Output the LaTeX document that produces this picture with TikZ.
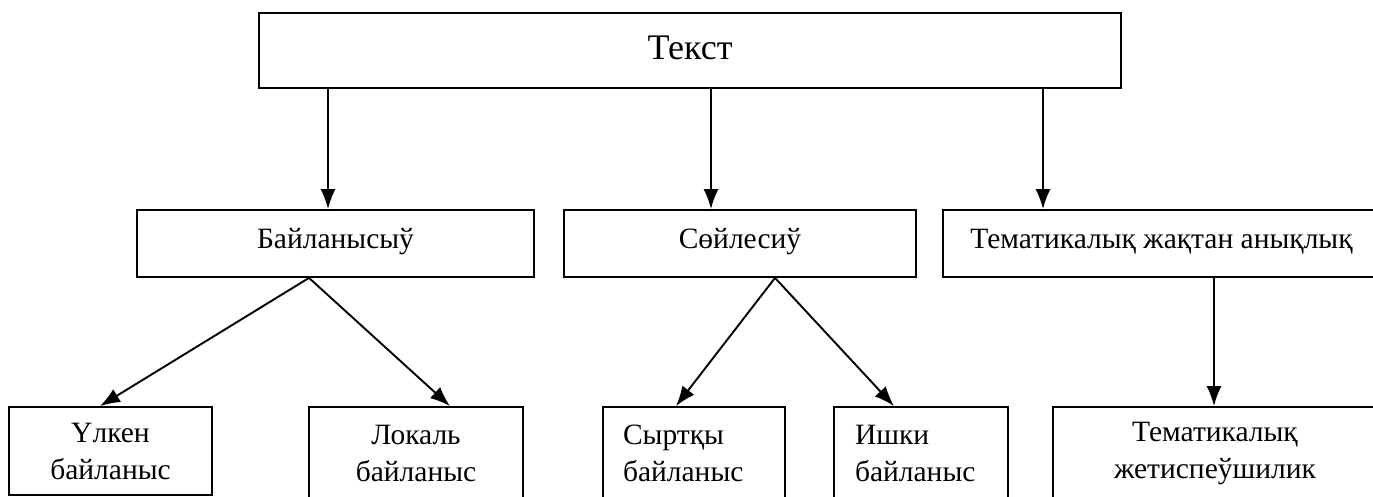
\documentclass[tikz,border=0pt]{standalone}
\usepackage{fontspec}
\setmainfont{Liberation Serif}
\usetikzlibrary{arrows.meta}

\tikzset{
  blok/.style={draw, line width=1.8pt, inner sep=0pt, font=\fontsize{29.5}{37}\selectfont},
  orta/.style={blok, minimum height=67pt, text height=20pt, text depth=10pt},
  asti/.style={blok, align=center},
  astisol/.style={blok, align=left},
  arr/.style={line width=1.9pt, -{Latex[length=20pt,width=15pt]}}
}

\begin{document}
\begin{tikzpicture}[x=1pt,y=-1pt]
\useasboundingbox (0,0) rectangle (1373,497);

% joqari
\node[blok, minimum width=862pt, minimum height=75pt, text height=24pt, text depth=5pt,
      font=\fontsize{36}{40}\selectfont] (tekst) at (690,50.5) {Текст};

% orta qatar
\node[orta, minimum width=397pt] (bai) at (335.5,243.5) {Байланысыў};
\node[orta, minimum width=352pt] (soy) at (740,243.5) {Сөйлесиў};
\node[orta, minimum width=437pt] (tema) at (1161.5,243.5) {Тематикалық жақтан анықлық};

% tomengi qatar
\node[asti, minimum width=203pt, minimum height=88pt] (ulken) at (110.5,451) {Үлкен\\байланыс};
\node[asti, minimum width=214pt, minimum height=93pt] (lokal) at (416,453.5) {Локаль\\байланыс};
\node[astisol, minimum height=93pt, inner xsep=20pt, text width=142pt] (sirtqi) at (694,453.5) {Сыртқы\\байланыс};
\node[astisol, minimum height=93pt, inner xsep=21pt, text width=132pt] (ishki) at (921,453.5) {Ишки\\байланыс};
\node[asti, minimum width=324pt, minimum height=93pt] (temj) at (1215,453.5) {Тематикалық\\жетиспеўшилик};

% baylanislar
\draw[arr] (tekst.south -| 328,0) -- (bai.north -| 328,0);
\draw[arr] (tekst.south -| 711,0) -- (soy.north -| 711,0);
\draw[arr] (tekst.south -| 1043,0) -- (tema.north -| 1043,0);

\draw[arr] (bai.south -| 309,0) -- ([xshift=-10.5pt]ulken.north);
\draw[arr] (bai.south -| 309,0) -- ([xshift=34pt]lokal.north);
\draw[arr] (soy.south -| 775,0) -- ([xshift=-18pt]sirtqi.north);
\draw[arr] (soy.south -| 775,0) -- ([xshift=-27pt]ishki.north);
\draw[arr] (tema.south -| 1214,0) -- (temj.north -| 1214,0);
\end{tikzpicture}
\end{document}
